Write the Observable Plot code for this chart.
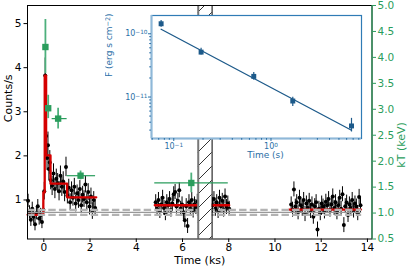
<!DOCTYPE html>
<html><head><meta charset="utf-8">
<script src="https://cdn.jsdelivr.net/npm/d3@7"></script>
<script src="https://cdn.jsdelivr.net/npm/@observablehq/plot@0.6"></script>
<style>
body{margin:0;background:#fff;}
#wrap{position:relative;width:407px;height:270px;overflow:hidden;background:#fff;}
#wrap svg{position:absolute;}
</style></head><body>
<svg width="0" height="0" style="position:absolute"><defs>
<pattern id="hatch" patternUnits="userSpaceOnUse" width="14" height="14">
<path d="M-1,1 L1,-1 M0,14 L14,0 M13,15 L15,13" stroke="#000" stroke-width="0.8"/>
</pattern></defs></svg>
<div id="wrap"></div>
<script>
// ---------- light curve (counts/s) ----------
const lcT1 = [-0.68,-0.62,-0.56,-0.50,-0.44,-0.38,-0.32,-0.26,-0.20,-0.14,-0.08,-0.02,
  0.02,0.06,0.10,0.14,0.18,0.22,0.26,
  0.30,0.36,0.42,0.48,0.54,0.60,0.66,0.72,0.78,0.84,0.90,0.96,
  1.02,1.08,1.14,1.20,1.26,1.32,1.38,1.44,1.50,1.56,1.62,1.68,1.74,1.80,1.86,1.92,1.98,2.04,2.10,2.16,2.22];
const lcV1 = [0.98,0.72,0.55,0.80,0.62,0.45,0.70,0.86,0.58,0.66,0.50,0.78,
  1.20,3.82,2.45,1.95,2.24,1.70,1.85,
  1.45,1.32,1.60,1.25,1.48,1.38,1.20,1.55,1.30,1.42,1.18,1.75,
  1.10,1.28,0.95,1.22,1.05,1.30,0.92,1.15,1.00,1.25,0.88,1.12,1.02,1.35,0.95,1.18,0.85,1.08,0.75,1.00,0.82];
const lcE1 = [0.15,0.15,0.15,0.15,0.15,0.15,0.15,0.15,0.15,0.15,0.15,0.15,
  0.20,0.40,0.32,0.28,0.30,0.26,0.27,
  0.22,0.22,0.22,0.22,0.22,0.22,0.22,0.22,0.22,0.22,0.22,0.22,
  0.19,0.19,0.19,0.19,0.19,0.19,0.19,0.19,0.19,0.19,0.19,0.19,0.19,0.19,0.19,0.19,0.19,0.19,0.19,0.19,0.19];
const lcT2 = [4.84,4.90,4.96,5.02,5.08,5.14,5.20,5.26,5.32,5.38,5.44,5.50,5.56,5.62,5.68,5.74,5.80,5.86,5.92,5.98,
  6.04,6.10,6.16,6.22,6.28,6.34,6.40,6.46,6.52,6.58,6.64,
  7.30,7.36,7.42,7.48,7.54,7.60,7.66,7.72,7.78,7.84,7.90,7.96,8.02];
const lcV2 = [0.95,0.80,1.00,0.75,0.90,1.05,0.82,0.70,0.95,0.88,1.02,0.78,0.92,1.13,1.18,0.85,0.98,1.22,0.80,0.90,
  0.72,0.54,0.86,0.41,0.95,0.80,1.00,0.76,0.90,0.84,0.96,
  0.88,1.02,0.80,0.95,0.75,1.05,0.86,0.98,0.78,1.08,0.84,0.92,0.80];
const lcT3 = [10.70,10.76,10.82,10.88,10.94,11.00,11.06,11.12,11.18,11.24,11.30,11.36,11.42,11.48,11.54,11.60,11.66,
  11.72,11.78,11.84,11.90,11.96,12.02,12.08,12.14,12.20,12.26,12.32,12.38,12.44,12.50,12.56,12.62,12.68,12.74,12.80,
  12.86,12.92,12.98,13.04,13.10,13.16,13.22,13.28,13.34,13.40,13.46,13.52,13.58,13.64,13.70];
const lcV3 = [0.90,0.78,1.24,0.85,0.95,0.72,1.05,0.88,0.80,1.00,0.68,0.92,0.82,0.98,0.75,0.90,0.62,
  0.86,0.95,0.33,0.80,0.70,0.92,0.85,0.74,0.96,0.88,1.02,0.78,0.90,1.08,0.82,0.95,0.72,0.88,1.05,
  0.80,1.13,0.43,0.86,0.94,0.66,0.90,0.82,1.00,0.76,0.92,0.85,0.70,1.07,0.88];
const lcErr = 0.17;      // typical error of quiescent bins
const binHalf = 0.03;    // half bin width (ks)

// ---------- Bayesian-block step levels (red) ----------
const redSeg = ["a","a","a","a","a","a","a","b","b","c","c"];
const redT   = [-0.70,-0.02,0.04,0.10,0.29,1.01,2.27, 4.80,8.02, 10.62,13.72];
const redV   = [0.664,1.17,3.82,2.01,1.37,1.06,1.06, 0.88,0.88, 0.783,0.783];

// ---------- quiescent level (grey) ----------
const greyMid = 0.72;
const greyBand = [0.664, 0.777];
const greySpan = [-0.70, 13.75];
const hatchSpan = [6.68, 7.28];

// ---------- temperature kT (keV) ----------
const kTt  = [0.07, 0.19, 0.62, 1.59, 6.38];
const kTtLo = [0.04, 0.15, 0.36, 1.01, 4.80];
const kTtHi = [0.10, 0.23, 1.01, 2.24, 7.98];
const kTv  = [4.20, 3.02, 2.82, 1.72, 1.58];
const kTlo = [3.69, 2.82, 2.62, 1.64, 1.39];
const kThi = [4.73, 3.27, 3.02, 1.81, 1.77];

// ---------- inset: flux vs time ----------
const fT  = [0.0741, 0.191, 0.665, 1.675, 6.73];
const fV  = [1.44e-10, 5.13e-11, 2.12e-11, 8.65e-12, 3.49e-12];
const fLo = [1.27e-10, 4.6e-11, 1.85e-11, 7.1e-12, 2.8e-12];
const fHi = [1.62e-10, 5.9e-11, 2.45e-11, 9.9e-12, 4.6e-12];
const fitT = [0.0741, 6.73];
const fitF = [1.18e-10, 2.98e-12];

// ---------- ticks ("^" marks a superscript) ----------
const xTicks = [0,2,4,6,8,10,12,14];
const yTicks = [1,2,3,4,5];
const kTTicks = [0.5,1.0,1.5,2.0,2.5,3.0,3.5,4.0,4.5,5.0];
const inXMajor = [0.1, 1];
const inXMajorLab = ["10^−1^","10^0^"];
const inXMinor = [0.06,0.07,0.08,0.09,0.2,0.3,0.4,0.5,0.6,0.7,0.8,0.9,2,3,4,5,6,7,8];
const inYMajor = [1e-10, 1e-11];
const inYMajorLab = ["10^−10^","10^−11^"];
const inYMinor = [3e-12,4e-12,5e-12,6e-12,7e-12,8e-12,9e-12,2e-11,3e-11,4e-11,5e-11,6e-11,7e-11,8e-11,9e-11];

// ---------- build tables ----------
const lc = [];
lcT1.forEach((t,i)=>lc.push({t, v:lcV1[i], e:lcE1[i]}));
lcT2.forEach((t,i)=>lc.push({t, v:lcV2[i], e:lcErr}));
lcT3.forEach((t,i)=>lc.push({t, v:lcV3[i], e:lcErr}));
const red = redT.map((t,i)=>({t, v:redV[i], seg:redSeg[i]}));
const kT = kTt.map((t,i)=>({t, tl:kTtLo[i], th:kTtHi[i], v:kTv[i], lo:kTlo[i], hi:kThi[i]}));
const flux = fT.map((t,i)=>({t, v:fV[i], lo:fLo[i], hi:fHi[i]}));
const fit = fitT.map((t,i)=>({t, v:fitF[i]}));

const W = 407, H = 270;
const M = {marginLeft:27, marginRight:35.5, marginTop:5, marginBottom:31.5};
const xDomain = [-0.705, 14.197];
const yDomain = [0.115, 5.41];
const kTDomain = [0.5, 5.0];
const font = "DejaVu Sans";
const green = "#2a9d5c", greenBar = "#4db07c";
const blue = "#2b6fa6", blueDark = "#1d5a8a";

const main = Plot.plot({
  width: W, height: H, ...M,
  style: {fontFamily: font, fontSize: "10.5px", background: "transparent", color: "black"},
  x: {domain: xDomain}, y: {domain: yDomain},
  marks: [
    Plot.ruleX(lc, {x:"t", y1:d=>d.v-d.e, y2:d=>d.v+d.e, stroke:"black", strokeWidth:1}),
    Plot.ruleY(lc, {y:"v", x1:d=>d.t-binHalf, x2:d=>d.t+binHalf, stroke:"black", strokeWidth:1}),
    Plot.dot(lc, {x:"t", y:"v", r:2, fill:"black", stroke:null}),
    Plot.line(red, {x:"t", y:"v", z:"seg", curve:"step-after", stroke:"#d50000", strokeWidth:2.3}),
    Plot.ruleY([greyMid], {y:d=>d, x1:greySpan[0], x2:greySpan[1], stroke:"#999", strokeWidth:1.3}),
    Plot.ruleY(greyBand, {y:d=>d, x1:greySpan[0], x2:greySpan[1], stroke:"#b3b3b3", strokeWidth:2.2, strokeDasharray:"7.4,3.2"}),
    Plot.rect([hatchSpan], {x1:d=>d[0], x2:d=>d[1], y1:yDomain[0], y2:yDomain[1], fill:"white"}),
    Plot.rect([hatchSpan], {x1:d=>d[0], x2:d=>d[1], y1:yDomain[0], y2:yDomain[1], fill:"url(#hatch)"}),
    Plot.ruleX([hatchSpan[0]], {x:d=>d, stroke:"#777", strokeWidth:2}),
    Plot.ruleX([hatchSpan[1]], {x:d=>d, stroke:"black", strokeWidth:1}),
    Plot.frame({stroke:"black", strokeWidth:1}),
    Plot.axisX({ticks: xTicks, tickSize:3.5, tickPadding:1.5, tickFormat:d3.format("d"), label:null}),
    Plot.axisY({ticks: yTicks, tickSize:3.5, tickPadding:2.5, tickFormat:d3.format("d"), label:null}),
    Plot.text(["Counts/s"], {text:d=>d, frameAnchor:"left", rotate:-90, dx:-19.5, fontSize:11}),
    Plot.text(["Time (ks)"], {text:d=>d, frameAnchor:"bottom", dy:24.5, fontSize:11})
  ]
});

const over = Plot.plot({
  width: W, height: H, ...M,
  style: {fontFamily: font, fontSize: "10.5px", background: "transparent", color: green},
  x: {domain: xDomain, axis: null}, y: {domain: kTDomain, axis: null},
  marks: [
    Plot.ruleX([xDomain[1]], {x:d=>d, stroke: green, strokeWidth: 1.2}),
    Plot.axisY({anchor:"right", ticks: kTTicks, tickFormat: d3.format(".1f"), tickSize:3.5, tickPadding:2, label:null}),
    Plot.ruleX(kT, {x:"t", y1:"lo", y2:"hi", stroke: greenBar, strokeWidth:1.8}),
    Plot.ruleY(kT, {y:"v", x1:"tl", x2:"th", stroke: green, strokeWidth:1.2}),
    Plot.dot(kT, {x:"t", y:"v", symbol:"square", r:3.6, fill: green, stroke:null}),
    Plot.text(["kT (keV)"], {text:d=>d, frameAnchor:"right", rotate:-90, dx:29, fill: green, fontSize:11})
  ]
});

// inset
const IM = {marginLeft:46, marginRight:4, marginTop:3, marginBottom:28};
const inX = [0.059, 8.53], inY = [2.21e-12, 1.945e-10];
const inset = Plot.plot({
  width: 260, height: 154, ...IM,
  style: {fontFamily: font, fontSize: "8px", background: "transparent", color: blue},
  x: {type:"log", domain: inX, axis: null}, y: {type:"log", domain: inY, axis: null},
  marks: [
    Plot.frame({fill:"white", stroke:null}),
    Plot.line(fit, {x:"t", y:"v", stroke: blueDark, strokeWidth:1.3}),
    Plot.ruleX(flux, {x:"t", y1:"lo", y2:"hi", stroke: blueDark, strokeWidth:1.2}),
    Plot.dot(flux, {x:"t", y:"v", symbol:"square", r:2.8, fill: blueDark, stroke:null}),
    Plot.frame({stroke:"#2f7bb5", strokeWidth:1.2}),
    Plot.ruleX([inX[0]], {x:d=>d, stroke:"#8fb8d8", strokeWidth:2}),
    Plot.ruleY([inY[0]], {y:d=>d, stroke:"#8fb8d8", strokeWidth:2}),
    Plot.axisX({ticks: inXMinor, tickSize:1.8, tickFormat:()=>"", label:null}),
    Plot.axisY({ticks: inYMinor, tickSize:1.8, tickFormat:()=>"", label:null}),
    Plot.axisX({ticks: inXMajor, tickSize:3, tickPadding:1.5, tickFormat:d=>inXMajorLab[inXMajor.indexOf(d)], label:null}),
    Plot.axisY({ticks: inYMajor, tickSize:3, tickPadding:1, tickFormat:d=>inYMajorLab[inYMajor.indexOf(d)], label:null}),
    Plot.text(["F (erg s cm^−2^)"], {text:d=>d, frameAnchor:"left", rotate:-90, dx:-42, fontSize:9}),
    Plot.text(["Time (s)"], {text:d=>d, frameAnchor:"bottom", dx:9, dy:19.5, fontSize:9})
  ]
});

// render "^...^" as superscript tspans
inset.querySelectorAll("text").forEach(node => {
  const targets = node.querySelectorAll("tspan").length ? [...node.querySelectorAll("tspan")] : [node];
  targets.forEach(el => {
    const s = el.textContent;
    if (!s.includes("^")) return;
    const parts = s.split("^");
    el.textContent = "";
    parts.forEach((p, i) => {
      if (!p) return;
      const ts = document.createElementNS("http://www.w3.org/2000/svg", "tspan");
      ts.textContent = p;
      if (i % 2 === 1) { ts.setAttribute("baseline-shift", "38%"); ts.setAttribute("font-size", "72%"); }
      el.appendChild(ts);
    });
  });
});

const wrap = document.getElementById("wrap");
main.style.left = "0px"; main.style.top = "0px";
over.style.left = "0px"; over.style.top = "0px";
inset.style.left = "105px"; inset.style.top = "12px";
wrap.append(main, over, inset);
</script>
</body></html>
